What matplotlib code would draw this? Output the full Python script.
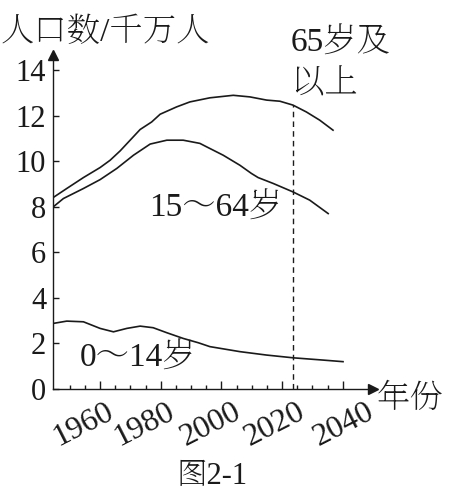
import numpy as np
import matplotlib
matplotlib.use("Agg")
import matplotlib.pyplot as plt
import matplotlib.transforms as mtransforms
from matplotlib import font_manager as fm

# pick a serif CJK font if one is installed, else the sans one
installed = set(f.name for f in fm.fontManager.ttflist)
cjk = 'Noto Sans CJK SC'
for cand in ['Noto Serif CJK SC', 'Noto Serif SC', 'Noto Serif CJK JP']:
    if cand in installed:
        cjk = cand
        break
plt.rcParams['font.family'] = ['Liberation Serif', cjk]

# total (top curve)
years_top = [1944.6, 1949.0, 1954.5, 1960.0, 1963.3, 1966.6, 1969.9, 1973.2, 1977.0, 1979.8, 1985.2,
             1989.6, 1996.2, 2003.9, 2009.4, 2014.9, 2019.3, 2023.6, 2028.0, 2032.4, 2036.8]
top_vals = [8.41, 8.80, 9.28, 9.72, 10.04, 10.45, 10.92, 11.39, 11.72, 12.06, 12.38,
            12.60, 12.78, 12.89, 12.82, 12.68, 12.63, 12.46, 12.16, 11.80, 11.36]

# 15~64 boundary
years_mid = [1944.6, 1947.9, 1954.5, 1960.0, 1965.5, 1971.0, 1976.5, 1982.0, 1987.4,
             1992.9, 1995.1, 2000.6, 2006.1, 2009.9, 2012.1, 2017.1, 2023.6, 2029.1, 2035.2]
mid_vals = [8.00, 8.36, 8.80, 9.19, 9.68, 10.26, 10.75, 10.92, 10.92,
            10.78, 10.63, 10.26, 9.82, 9.46, 9.28, 9.02, 8.65, 8.29, 7.70]

# 0~14
years_low = [1944.6, 1949.0, 1954.5, 1960.0, 1964.4, 1968.8, 1973.2, 1977.5, 1982.0, 1987.4,
             1992.4, 1996.2, 2006.1, 2014.9, 2023.6, 2033.5, 2040.1]
low_vals = [2.88, 2.98, 2.95, 2.66, 2.51, 2.66, 2.76, 2.69, 2.47, 2.22,
            2.03, 1.86, 1.64, 1.49, 1.37, 1.27, 1.20]

major_years = [1960, 1980, 2000, 2020, 2040]
minor_years = [1950, 1955, 1965, 1970, 1975, 1985, 1990, 1995, 2005, 2010, 2015, 2025, 2030, 2035]
y_ticks = [0, 2, 4, 6, 8, 10, 12, 14]
mark_year = 2023.5

ink = '#1a1a1a'
fig = plt.figure(figsize=(4.5, 4.96), dpi=100)
ax = fig.add_axes([0.118, 0.2157, 0.711, 0.673])

ax.plot(years_top, top_vals, color=ink, lw=1.2)
ax.plot(years_mid, mid_vals, color=ink, lw=1.2)
ax.plot(years_low, low_vals, color=ink, lw=1.2)

top_at_mark = np.interp(mark_year, years_top, top_vals)
ax.plot([mark_year, mark_year], [0, top_at_mark], color=ink, lw=1.0, ls=(0, (4, 3)))

ax.set_xlim(1944.5, 2050)
ax.set_ylim(0, 14.65)

for s in ['top', 'right']:
    ax.spines[s].set_visible(False)
for s in ['left', 'bottom']:
    ax.spines[s].set_linewidth(1.0)
    ax.spines[s].set_color(ink)

ax.plot([0], [1], marker='^', color=ink, markersize=7, transform=ax.transAxes, clip_on=False)
ax.plot([1], [0], marker='>', color=ink, markersize=7, transform=ax.transAxes, clip_on=False)

ax.set_yticks(y_ticks)
ax.set_yticklabels([str(v) for v in y_ticks], fontsize=22)
ax.set_xticks(major_years)
ax.set_xticklabels([str(v) for v in major_years], fontsize=23, rotation=27,
                   ha='right', va='top', rotation_mode='anchor')
ax.set_xticks(minor_years, minor=True)
ax.tick_params(axis='y', direction='in', length=4, width=1, pad=5, colors=ink)
ax.tick_params(axis='x', which='major', direction='in', length=6, width=1, pad=6, colors=ink)
ax.tick_params(axis='x', which='minor', direction='in', length=3, width=1, colors=ink)

# nudge the year labels to the right a little, as in the scan
shift = [5, 5, 11, 15, 23]
for lab, dx in zip(ax.get_xticklabels(), shift):
    lab.set_transform(lab.get_transform() + mtransforms.ScaledTranslation(dx / 100, 0, fig.dpi_scale_trans))

fig.text(0 / 450, 1 - 33 / 496, '人口数/千万人', fontsize=24, va='center', ha='left', color=ink)
ax.text(2022.8, 15.2, '65岁及', fontsize=24, va='center', ha='left', clip_on=False, color=ink)
ax.text(2022.8, 13.35, '以上', fontsize=24, va='center', ha='left', clip_on=False, color=ink)
ax.text(1976.3, 7.94, '15～64岁', fontsize=24, va='center', ha='left', color=ink)
ax.text(1953.2, 1.36, '0～14岁', fontsize=24, va='center', ha='left', color=ink)
fig.text(377 / 450, 1 - 400 / 496, '年份', fontsize=24, va='center', ha='left', color=ink)
fig.text(212 / 450, 1 - 477 / 496, '图2-1', fontsize=22, va='center', ha='center', color=ink)

fig.savefig('out.png', dpi=100)
